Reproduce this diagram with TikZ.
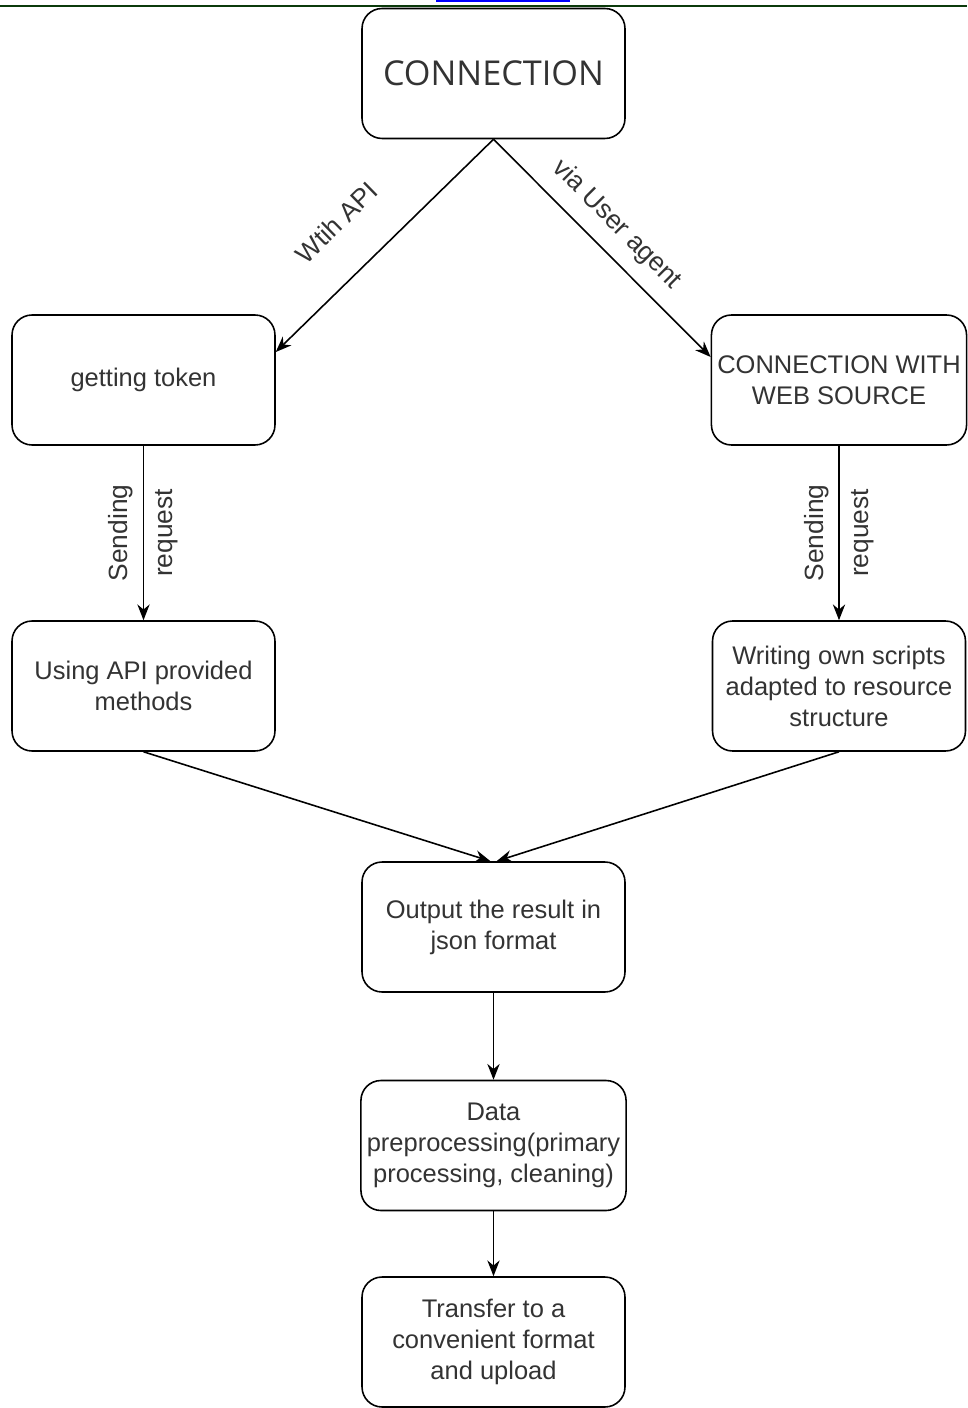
\documentclass[tikz,border=0pt]{standalone}
\usepackage{fontspec}
\setmainfont{Liberation Sans}
\newfontfamily\headfont{Open Sans}
\usetikzlibrary{arrows.meta}

\definecolor{txtgray}{HTML}{333333}
\definecolor{bargreen}{HTML}{0B3A0B}

\begin{document}
\begin{tikzpicture}[
    x=0.02cm, y=-0.02cm,
    box/.style={draw, line width=0.9pt, rounded corners=0.4cm, align=center,
      text=txtgray, minimum width=5.26cm, minimum height=2.6cm,
      font=\fontsize{14.5}{17.6}\selectfont},
    widebox/.style={box, minimum width=5.06cm},
    arr/.style={-{Stealth[length=9pt,width=7pt]}, line width=0.9pt},
    lbl/.style={text=txtgray, font=\fontsize{15}{17.6}\selectfont, inner sep=1pt}
]
\useasboundingbox (0,0) rectangle (967,1408);
  % bar at the top of the page
  \fill[blue] (436,0) rectangle (570,2);
  \fill[bargreen] (0,4.7) rectangle (967,7.3);

  % boxes
  \node[box] (conn) at (493.5,73.5) {\headfont\fontsize{19.5}{22}\selectfont CONNECTION};
  \node[box] (token) at (143.5,380) {getting token};
  \node[widebox] (websrc) at (839,380) {CONNECTION WITH\\WEB SOURCE};
  \node[box] (apimeth) at (143.5,686) {Using API provided\\methods};
  \node[widebox] (scripts) at (839,686) {Writing own scripts\\adapted to resource\\structure};
  \node[box] (output) at (493.5,927) {Output the result in\\json format};
  \node[box] (prep) at (493.5,1145.5) {Data\\preprocessing(primary\\processing, cleaning)};
  \node[box] (upload) at (493.5,1342) {Transfer to a\\convenient format\\and upload};

  % connectors
  \draw[arr] (conn.south) -- node[lbl, pos=0.56, sloped, above=0.76cm] {Wtih API} ([yshift=0.56cm]token.east);
  \draw[arr] (conn.south) -- node[lbl, pos=0.48, sloped, above=0.24cm] {via User agent} ([yshift=0.46cm]websrc.west);
  \draw[arr] (token.south) -- node[lbl, midway, rotate=90, align=center] {Sending\\[8pt]request} (apimeth.north);
  \draw[arr] (websrc.south) -- node[lbl, midway, rotate=90, align=center] {Sending\\[8pt]request} (scripts.north);
  \draw[arr] (apimeth.south) -- ([xshift=-0.06cm]output.north);
  \draw[arr] (scripts.south) -- ([xshift=0.06cm]output.north);
  \draw[arr] (output.south) -- (prep.north);
  \draw[arr] (prep.south) -- (upload.north);
\end{tikzpicture}
\end{document}
